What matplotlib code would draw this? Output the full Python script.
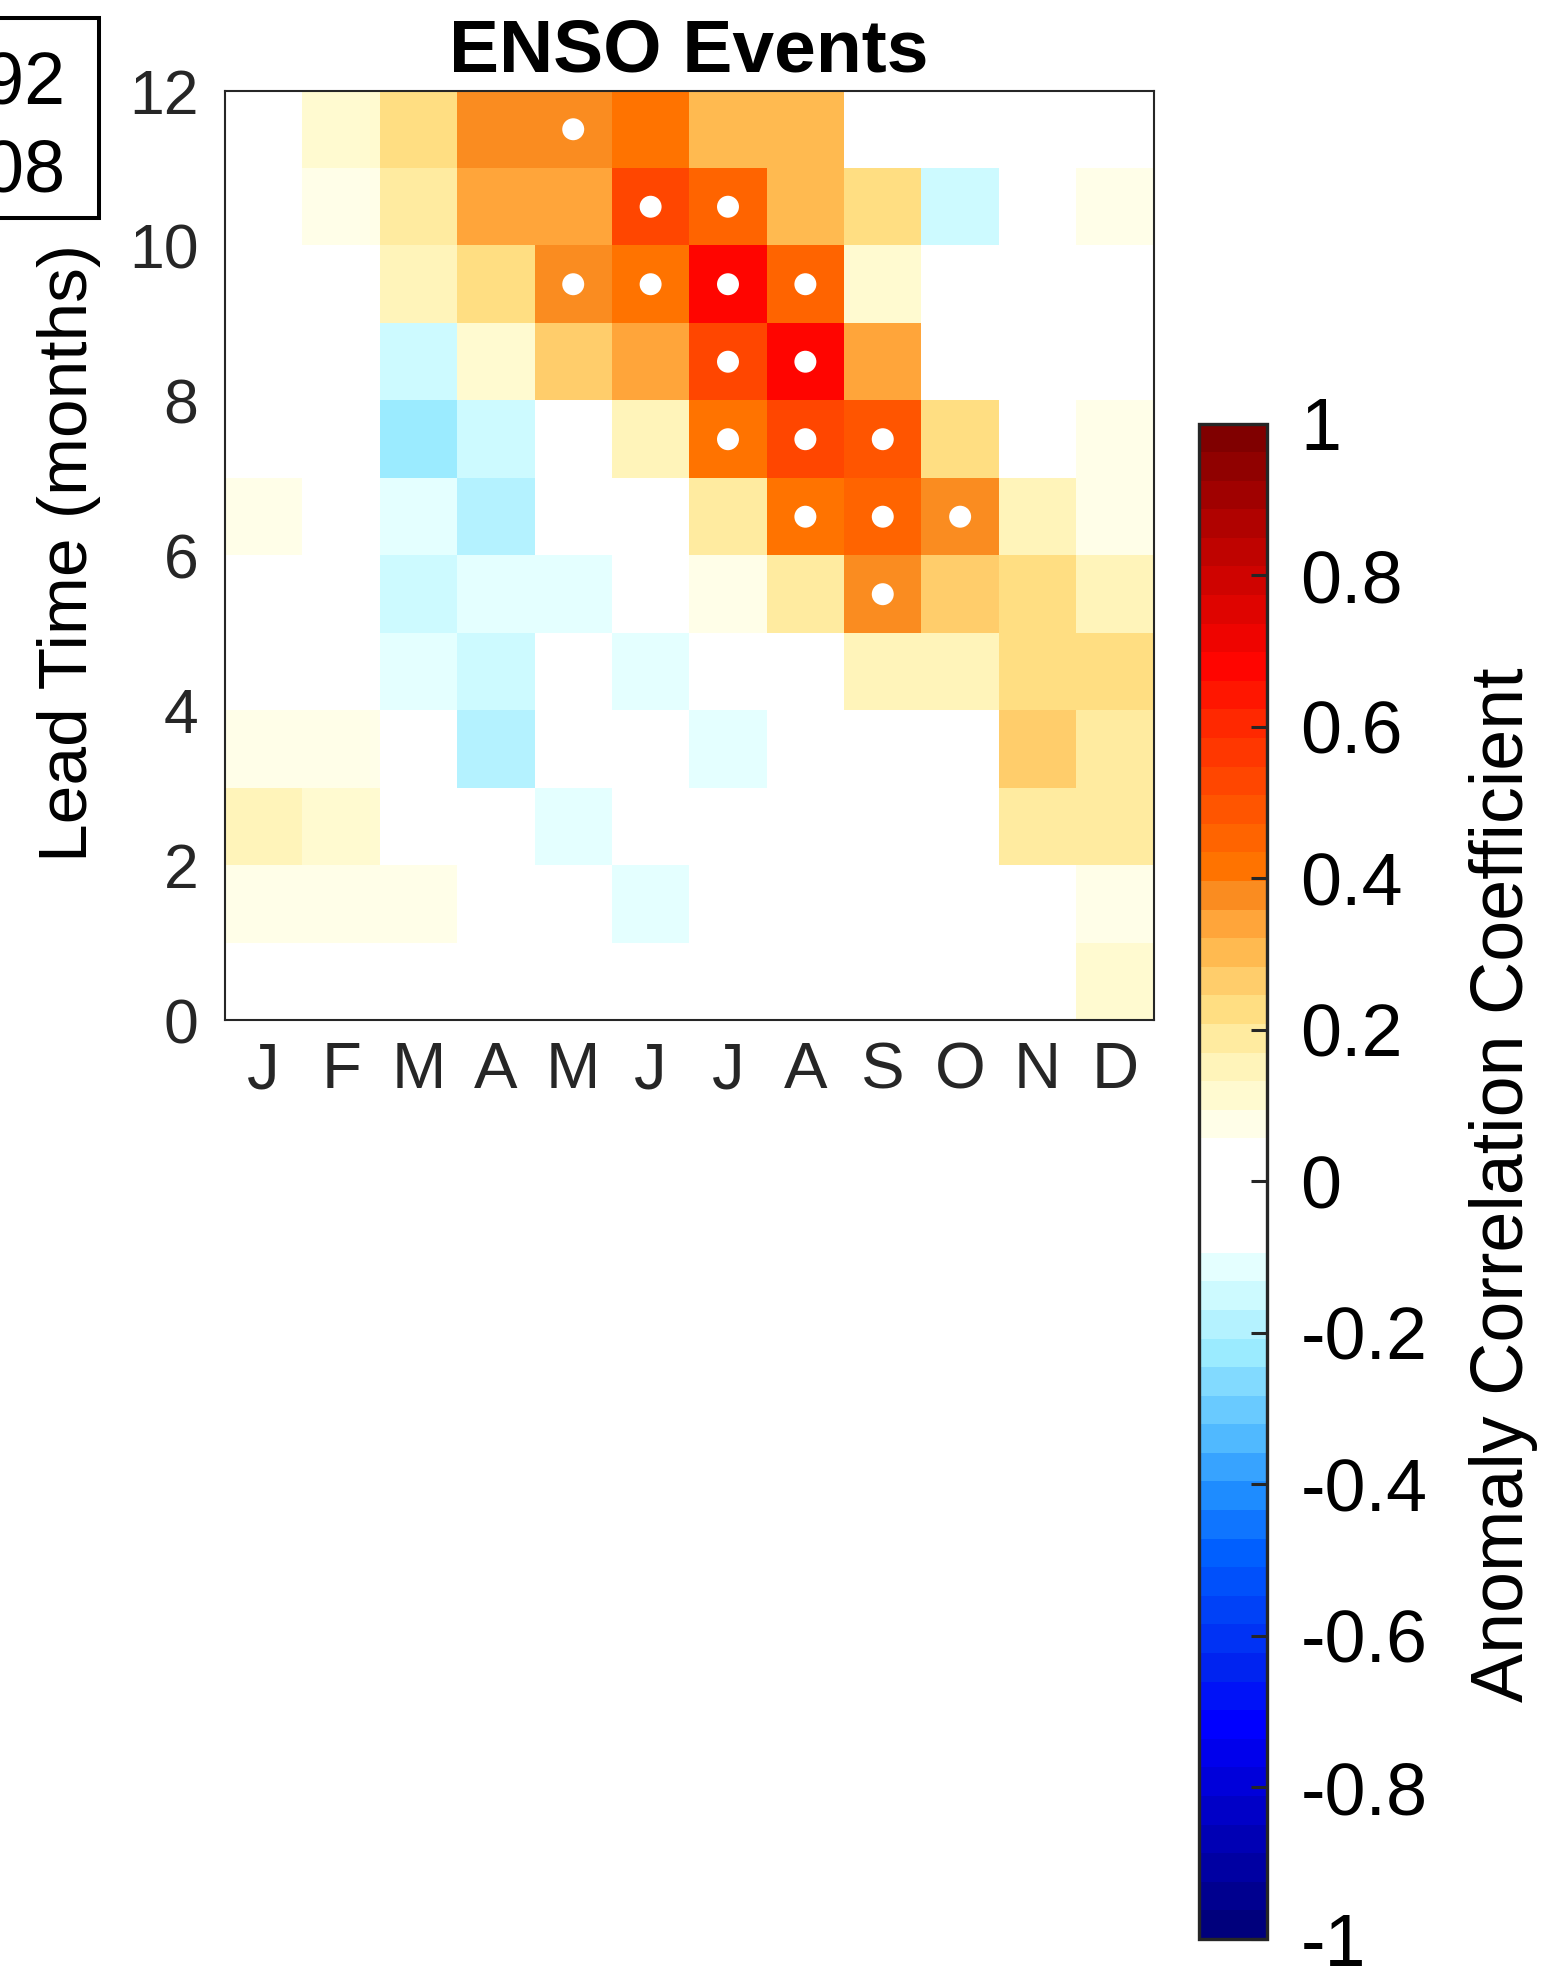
import numpy as np
import matplotlib
matplotlib.use("Agg")
import matplotlib.pyplot as plt
from matplotlib.colors import ListedColormap, Normalize
from matplotlib.patches import Rectangle

plt.rcParams['font.family'] = ['Liberation Sans', 'DejaVu Sans']
plt.rcParams['axes.unicode_minus'] = False

# ---- data -------------------------------------------------------------
months = ["J", "F", "M", "A", "M", "J", "J", "A", "S", "O", "N", "D"]
lead_ticks = [0, 2, 4, 6, 8, 10, 12]
cbar_ticks = [-1, -0.8, -0.6, -0.4, -0.2, 0, 0.2, 0.4, 0.6, 0.8, 1]
cbar_labels = ["-1", "-0.8", "-0.6", "-0.4", "-0.2", "0",
               "0.2", "0.4", "0.6", "0.8", "1"]

# anomaly correlation coefficient, one row per lead month (0 at the bottom)
acc_lead0 = [0, 0, 0, 0, 0, 0, 0, 0, 0, 0, 0, 0.11]
acc_lead1 = [0.07, 0.07, 0.07, 0, 0, -0.11, 0, 0, 0, 0, 0, 0.07]
acc_lead2 = [0.15, 0.11, 0, 0, -0.11, 0, 0, 0, 0, 0, 0.19, 0.19]
acc_lead3 = [0.07, 0.07, 0, -0.19, 0, 0, -0.11, 0, 0, 0, 0.26, 0.19]
acc_lead4 = [0, 0, -0.11, -0.15, 0, -0.11, 0, 0, 0.15, 0.15, 0.23, 0.23]
acc_lead5 = [0, 0, -0.15, -0.11, -0.11, 0, 0.07, 0.19, 0.38, 0.26, 0.23, 0.16]
acc_lead6 = [0.07, 0, -0.11, -0.19, 0, 0, 0.19, 0.42, 0.47, 0.38, 0.15, 0.07]
acc_lead7 = [0, 0, -0.23, -0.15, 0, 0.15, 0.42, 0.53, 0.49, 0.23, 0, 0.07]
acc_lead8 = [0, 0, -0.15, 0.11, 0.26, 0.34, 0.53, 0.67, 0.34, 0, 0, 0]
acc_lead9 = [0, 0, 0.15, 0.23, 0.38, 0.42, 0.67, 0.45, 0.11, 0, 0, 0]
acc_lead10 = [0, 0.07, 0.19, 0.34, 0.34, 0.52, 0.45, 0.30, 0.23, -0.15, 0, 0.07]
acc_lead11 = [0, 0.11, 0.23, 0.38, 0.38, 0.42, 0.30, 0.30, 0, 0, 0, 0]

# significant cells: (month index, lead row)
sig_month = [4, 5, 6, 4, 5, 6, 7, 6, 7, 6, 7, 8, 7, 8, 9, 8]
sig_lead = [11, 10, 10, 9, 9, 9, 9, 8, 8, 7, 7, 7, 6, 6, 6, 5]

period_tail = ["1982\u20131992", "1993\u20132008"]

acc = np.array([acc_lead0, acc_lead1, acc_lead2, acc_lead3, acc_lead4,
                acc_lead5, acc_lead6, acc_lead7, acc_lead8, acc_lead9,
                acc_lead10, acc_lead11])

# ---- discrete blue-white-red colour scale (53 bands over [-1, 1]) -----
n_bands = 53
anchors = [
    (-1.000, (0, 0, 115)), (-0.717, (0, 0, 255)), (-0.642, (0, 35, 240)),
    (-0.490, (0, 95, 255)), (-0.415, (30, 140, 255)), (-0.340, (80, 185, 255)),
    (-0.226, (155, 235, 255)), (-0.151, (205, 250, 255)), (-0.113, (228, 255, 255)),
    (-0.094, (255, 255, 255)), (0.057, (255, 255, 255)),
    (0.0755, (255, 254, 232)), (0.113, (255, 250, 208)), (0.151, (255, 244, 186)),
    (0.189, (255, 235, 160)), (0.226, (255, 222, 130)), (0.264, (255, 205, 107)),
    (0.302, (255, 186, 80)), (0.340, (255, 165, 58)), (0.377, (250, 140, 32)),
    (0.415, (255, 115, 0)), (0.453, (255, 100, 0)), (0.491, (255, 85, 0)),
    (0.528, (255, 70, 0)), (0.604, (255, 40, 0)), (0.679, (255, 5, 0)),
    (1.000, (120, 0, 0)),
]
av = np.array([a[0] for a in anchors])
ac = np.array([a[1] for a in anchors], dtype=float) / 255.0
centers = -1 + (np.arange(n_bands) + 0.5) * 2.0 / n_bands
band_colors = np.column_stack([np.interp(centers, av, ac[:, i]) for i in range(3)])
band_colors[24:28] = 1.0
cmap = ListedColormap(band_colors)
norm = Normalize(vmin=-1, vmax=1)

# ---- figure -----------------------------------------------------------
W, H = 1562, 1971
fig = plt.figure(figsize=(W / 100, H / 100), dpi=100)


def fx(px):
    return px / W


def fy(py):
    return 1 - py / H


ax = fig.add_axes([fx(225), fy(1020.4), fx(928.6), 929.9 / H])
x_edges = np.arange(len(months) + 1)
y_edges = np.arange(acc.shape[0] + 1)
mesh = ax.pcolormesh(x_edges, y_edges, acc, cmap=cmap, norm=norm,
                     edgecolors='none', antialiased=False)
ax.scatter(np.array(sig_month) + 0.5, np.array(sig_lead) + 0.5, s=250,
           c='white', edgecolors='none', zorder=3)

ax.set_xlim(0, 12)
ax.set_ylim(0, 12)
ax.set_xticks(np.arange(len(months)) + 0.5)
ax.set_xticklabels(months)
ax.set_yticks(lead_ticks)
ax.set_yticklabels([str(t) for t in lead_ticks])
ax.tick_params(axis='x', length=0, pad=15, labelsize=47, labelcolor='#262626')
ax.tick_params(axis='y', length=0, pad=19, labelsize=45, labelcolor='#262626')
for sp in ax.spines.values():
    sp.set_linewidth(1.5)
    sp.set_color('#262626')

fig.text(fx(689), fy(72), "ENSO Events", ha='center', va='baseline',
         fontsize=54, fontweight='bold', color='black')
fig.text(fx(69), fy(553), "Lead Time (months)", rotation=90,
         ha='center', va='center', fontsize=50, color='black')

# ---- colour bar -------------------------------------------------------
cax = fig.add_axes([fx(1199), fy(1939), fx(68), 1515.5 / H])
cb = fig.colorbar(mesh, cax=cax, orientation='vertical')
cb.set_ticks(cbar_ticks)
cb.set_ticklabels(cbar_labels)
cb.outline.set_linewidth(2.4)
cb.outline.set_edgecolor('#262626')
cax.tick_params(direction='in', length=11.5, width=2.2, color='#262626',
                labelsize=53, pad=24, labelcolor='black')
fig.text(fx(1504), fy(1185), "Anomaly Correlation Coefficient", rotation=90,
         ha='center', va='center', fontsize=53, color='black')

# ---- period box at the upper left ------------------------------------
fig.text(fx(65), fy(103), period_tail[0], ha='right', va='baseline',
         fontsize=53, color='black')
fig.text(fx(65), fy(192), period_tail[1], ha='right', va='baseline',
         fontsize=53, color='black')
fig.patches.append(Rectangle((fx(-60), fy(218)), fx(159), (218 - 18) / H,
                             transform=fig.transFigure, fill=False,
                             linewidth=2.9, edgecolor='black'))

fig.savefig("out.png", dpi=100, facecolor='white')
